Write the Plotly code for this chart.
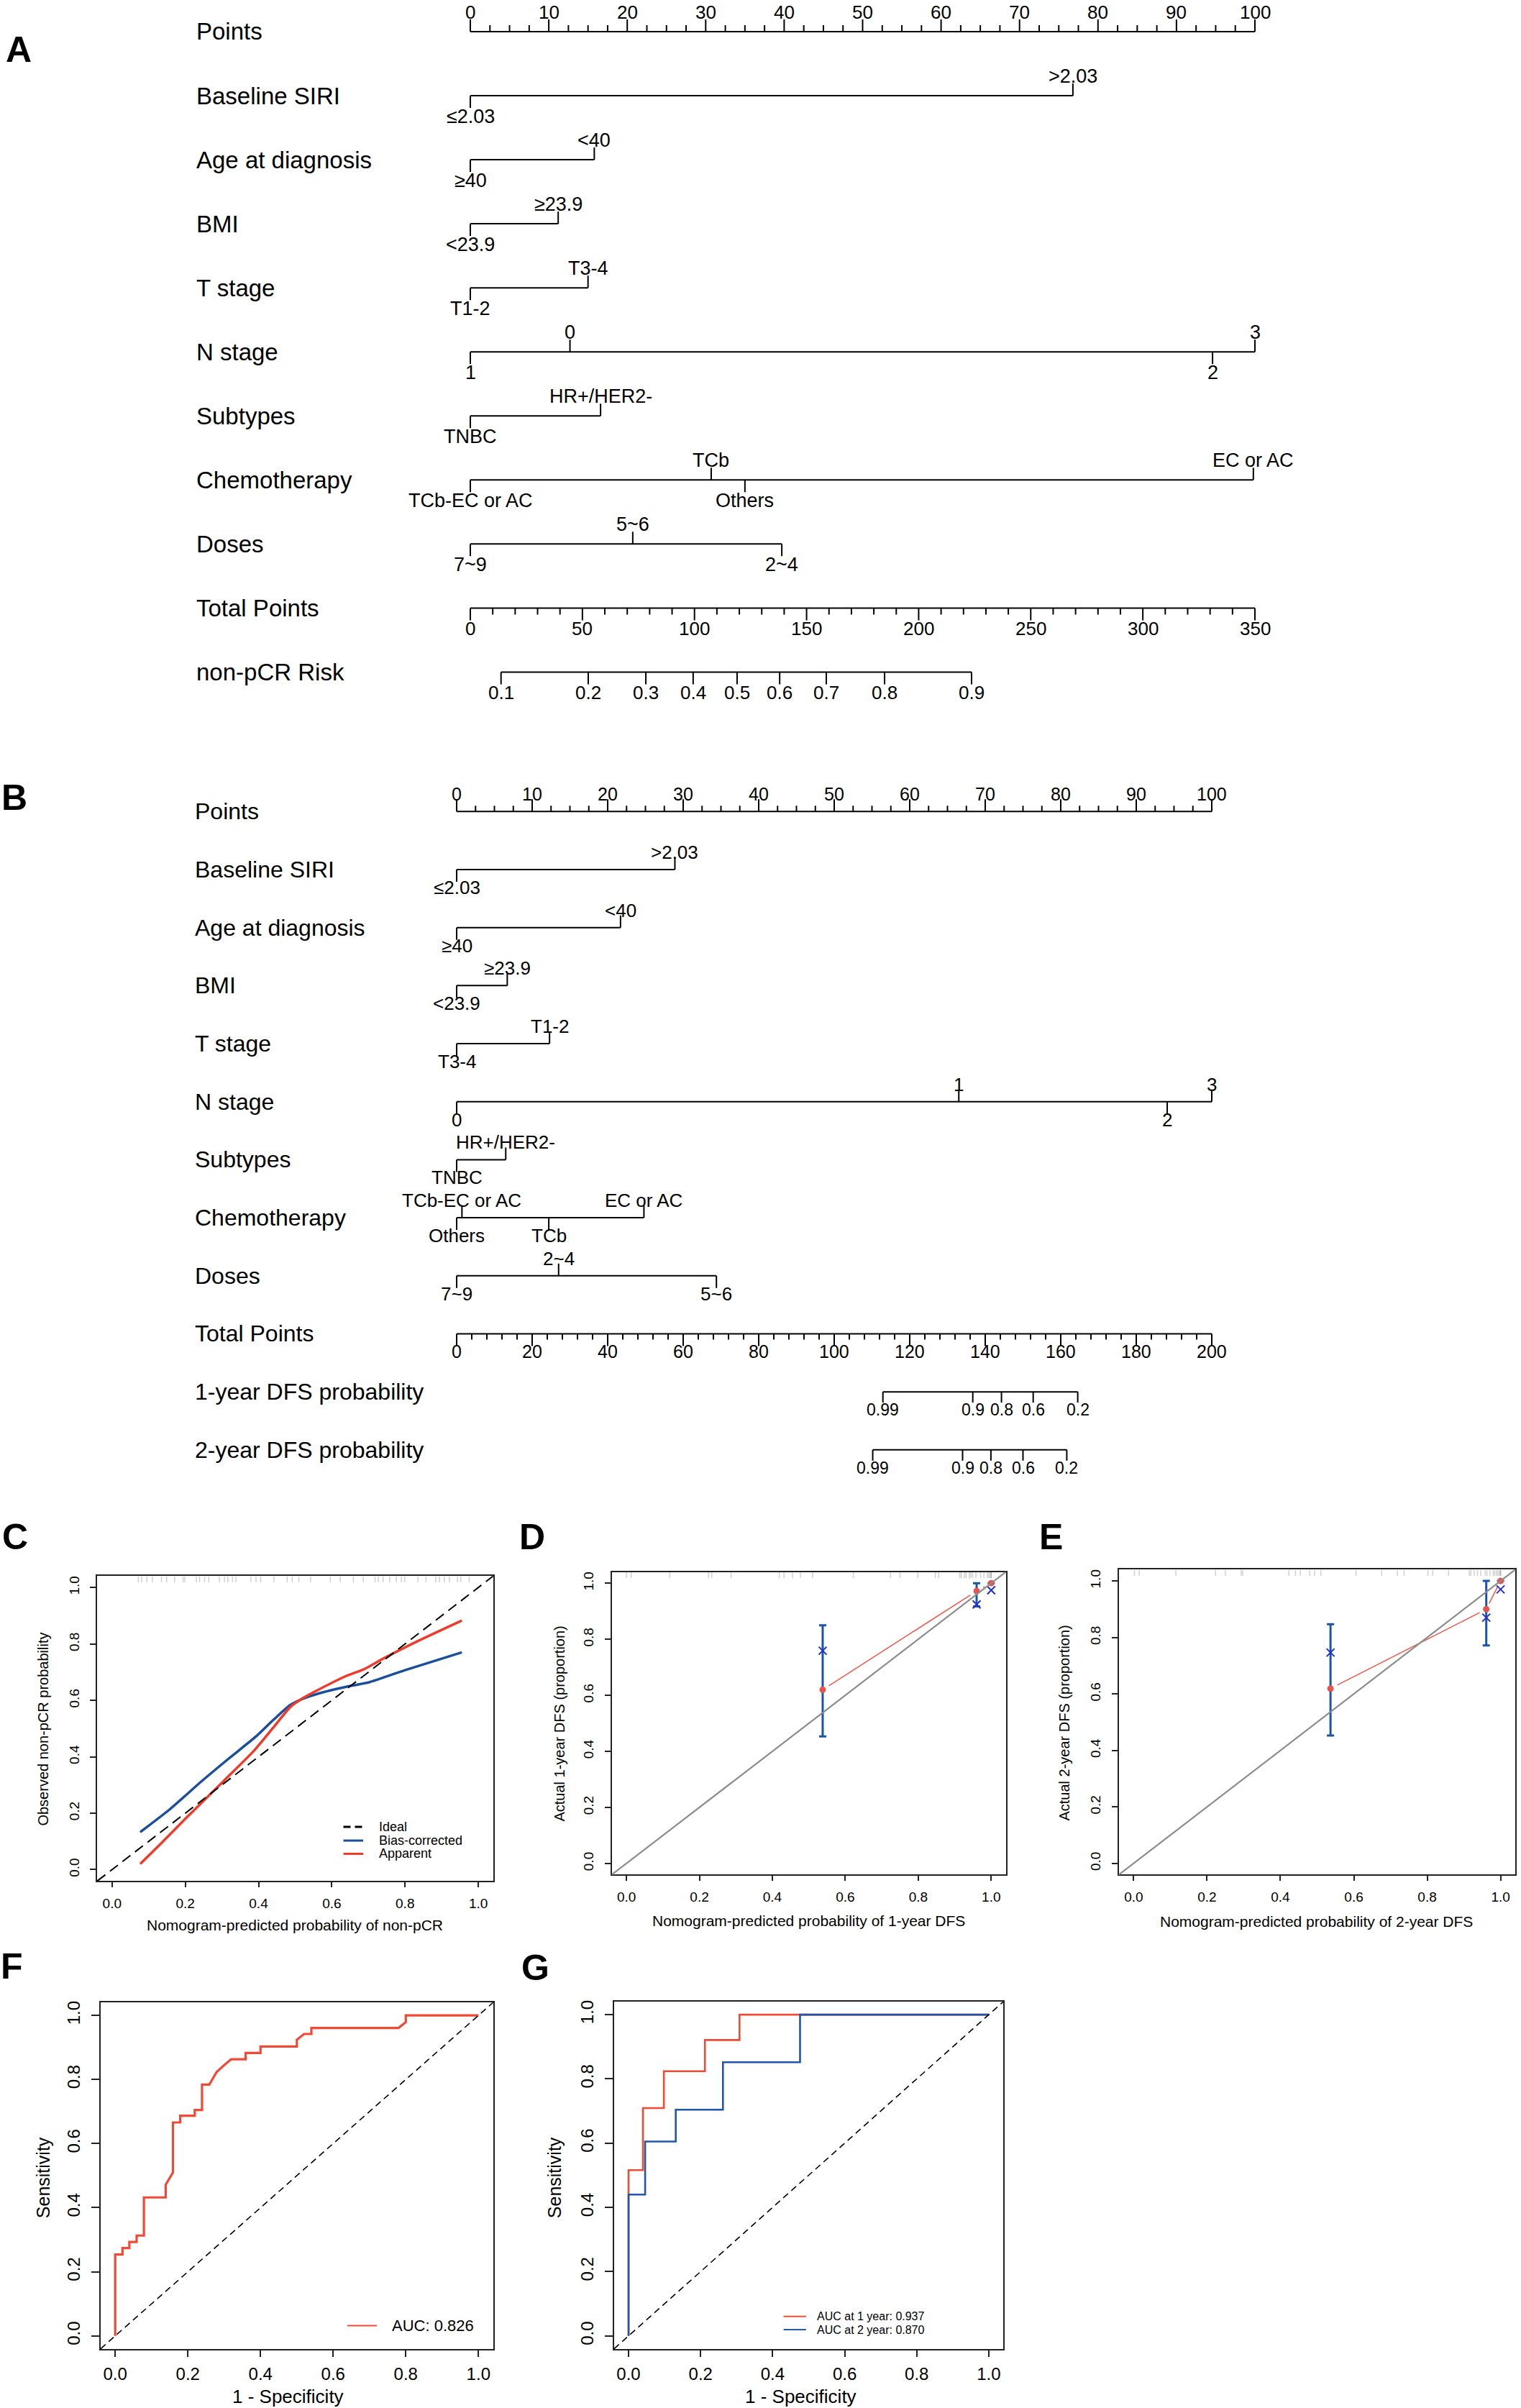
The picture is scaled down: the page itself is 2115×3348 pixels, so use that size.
import plotly.graph_objects as go

W, H = 2115, 3348
FONT = "Liberation Sans, Arial, Helvetica, sans-serif"

# ===================== DATA =====================
# ---- Panel A : non-pCR nomogram ----
A_points_ticks = [0, 10, 20, 30, 40, 50, 60, 70, 80, 90, 100]
A_siri_levels = ["≤2.03", ">2.03"]
A_siri_points = [0, 76.8]
A_age_levels = ["≥40", "<40"]
A_age_points = [0, 15.8]
A_bmi_levels = ["<23.9", "≥23.9"]
A_bmi_points = [0, 11.2]
A_t_levels = ["T1-2", "T3-4"]
A_t_points = [0, 15.0]
A_n_levels = ["1", "0", "2", "3"]
A_n_points = [0, 12.7, 94.6, 100]
A_sub_levels = ["TNBC", "HR+/HER2-"]
A_sub_points = [0, 16.6]
A_chemo_levels = ["TCb-EC or AC", "TCb", "Others", "EC or AC"]
A_chemo_points = [0, 30.7, 35.0, 99.8]
A_dose_levels = ["7~9", "5~6", "2~4"]
A_dose_points = [0, 20.7, 39.7]
A_total_ticks = [0, 50, 100, 150, 200, 250, 300, 350]
A_risk_labels = ["0.1", "0.2", "0.3", "0.4", "0.5", "0.6", "0.7", "0.8", "0.9"]
A_risk_total_points = [13.7, 52.6, 78.3, 99.4, 119.0, 138.0, 158.8, 184.8, 223.6]

# ---- Panel B : DFS nomogram ----
B_points_ticks = [0, 10, 20, 30, 40, 50, 60, 70, 80, 90, 100]
B_siri_levels = ["≤2.03", ">2.03"]
B_siri_points = [0, 28.9]
B_age_levels = ["≥40", "<40"]
B_age_points = [0, 21.7]
B_bmi_levels = ["<23.9", "≥23.9"]
B_bmi_points = [0, 6.7]
B_t_levels = ["T3-4", "T1-2"]
B_t_points = [0, 12.3]
B_n_levels = ["0", "1", "2", "3"]
B_n_points = [0, 66.5, 94.1, 100]
B_sub_levels = ["TNBC", "HR+/HER2-"]
B_sub_points = [0, 6.5]
B_chemo_levels = ["Others", "TCb-EC or AC", "TCb", "EC or AC"]
B_chemo_points = [0, 0.7, 12.2, 24.8]
B_dose_levels = ["7~9", "2~4", "5~6"]
B_dose_points = [0, 13.5, 34.4]
B_total_ticks = [0, 20, 40, 60, 80, 100, 120, 140, 160, 180, 200]
B_dfs1_labels = ["0.99", "0.9", "0.8", "0.6", "0.2"]
B_dfs1_total_points = [112.9, 136.7, 144.3, 152.7, 164.5]
B_dfs2_labels = ["0.99", "0.9", "0.8", "0.6", "0.2"]
B_dfs2_total_points = [110.2, 134.0, 141.5, 150.0, 161.6]

# ---- Panel C : calibration non-pCR ----
C_apparent_x = [0.077, 0.13, 0.20, 0.243, 0.30, 0.388, 0.44, 0.486, 0.52, 0.558, 0.637, 0.689, 0.742, 0.833, 0.955]
C_apparent_y = [0.020, 0.088, 0.180, 0.235, 0.308, 0.422, 0.503, 0.575, 0.607, 0.634, 0.685, 0.711, 0.749, 0.809, 0.883]
C_biascorr_x = [0.077, 0.158, 0.243, 0.32, 0.394, 0.44, 0.486, 0.52, 0.558, 0.65, 0.702, 0.80, 0.955]
C_biascorr_y = [0.133, 0.214, 0.3115, 0.395, 0.473, 0.53, 0.583, 0.605, 0.622, 0.651, 0.664, 0.707, 0.770]
C_rug = [0.072, 0.081, 0.095, 0.110, 0.135, 0.149, 0.171, 0.194, 0.199, 0.230, 0.239, 0.253, 0.264,
         0.293, 0.307, 0.316, 0.329, 0.338, 0.379, 0.393, 0.406, 0.442, 0.478, 0.492, 0.510, 0.542,
         0.596, 0.623, 0.659, 0.686, 0.718, 0.727, 0.740, 0.758, 0.776, 0.790, 0.799, 0.835, 0.857,
         0.884, 0.894, 0.907, 0.921, 0.943, 0.952, 0.975]

# ---- Panel D : calibration 1-year DFS ----
D_pred = [0.538, 0.960, 1.0]
D_observed = [0.620, 0.972, 1.0]
D_corrected = [0.759, 0.924, 0.975]
D_ci_low = [0.453, 0.917, 1.0]
D_ci_high = [0.850, 1.0, 1.0]
D_rug = [0.0, 0.013, 0.119, 0.225, 0.234, 0.287, 0.419, 0.432, 0.455, 0.477, 0.510, 0.622, 0.724,
         0.750, 0.799, 0.847, 0.856, 0.914, 0.918, 0.927, 0.931, 0.940, 0.944, 0.949, 0.958, 0.971,
         0.980, 0.989, 0.993, 0.997, 1.0, 1.0]

# ---- Panel E : calibration 2-year DFS ----
E_pred = [0.5365, 0.961, 1.0]
E_observed = [0.619, 0.900, 1.0]
E_corrected = [0.7465, 0.870, 0.970]
E_ci_low = [0.453, 0.7715, 1.0]
E_ci_high = [0.8467, 1.0, 1.0]
E_rug = [0.002, 0.015, 0.115, 0.223, 0.250, 0.293, 0.297, 0.423, 0.441, 0.454, 0.480, 0.493, 0.510,
         0.606, 0.676, 0.719, 0.737, 0.802, 0.815, 0.858, 0.915, 0.919, 0.928, 0.937, 0.946, 0.958,
         0.963, 0.971, 0.980, 0.984, 0.989, 0.993, 0.997, 1.0, 1.0]

# ---- Panel F : ROC non-pCR ----
F_fpr = [0, 0, 0.02, 0.02, 0.039, 0.039, 0.059, 0.059, 0.079, 0.079, 0.139, 0.139, 0.159, 0.159,
         0.179, 0.179, 0.219, 0.219, 0.239, 0.239, 0.259, 0.279, 0.30, 0.319, 0.359, 0.359, 0.40,
         0.40, 0.50, 0.50, 0.52, 0.54, 0.54, 0.78, 0.80, 0.80, 1.0]
F_tpr = [0, 0.254, 0.254, 0.274, 0.274, 0.293, 0.293, 0.313, 0.313, 0.432, 0.432, 0.472, 0.510, 0.666,
         0.666, 0.687, 0.687, 0.705, 0.705, 0.784, 0.784, 0.823, 0.845, 0.863, 0.863, 0.883, 0.883,
         0.903, 0.903, 0.924, 0.942, 0.942, 0.961, 0.961, 0.979, 1.0, 1.0]
F_auc_text = "AUC: 0.826"

# ---- Panel G : time-dependent ROC ----
G1_fpr = [0, 0, 0.040, 0.040, 0.098, 0.098, 0.212, 0.212, 0.308, 0.308, 1.0]
G1_tpr = [0, 0.516, 0.516, 0.709, 0.709, 0.824, 0.824, 0.921, 0.921, 1.0, 1.0]
G2_fpr = [0, 0, 0.046, 0.046, 0.131, 0.131, 0.262, 0.262, 0.476, 0.476, 1.0]
G2_tpr = [0, 0.440, 0.440, 0.605, 0.605, 0.704, 0.704, 0.852, 0.852, 1.0, 1.0]
G_legend = ["AUC at 1 year: 0.937", "AUC at 2 year: 0.870"]

# ===================== HELPERS =====================
fig = go.Figure()
annotations = []
shapes = []


def px_x(p):
    return p / W


def px_y(p):
    return 1 - p / H


def text(x, y, s, size, xref="paper", yref="paper", xanchor="center", yanchor="middle",
         yshift=0, angle=0, bold=False):
    annotations.append(dict(
        x=x, y=y, xref=xref, yref=yref, text=("<b>%s</b>" % s) if bold else s,
        showarrow=False, font=dict(family=FONT, size=size, color="black"),
        xanchor=xanchor, yanchor=yanchor, yshift=yshift, textangle=angle, borderpad=0))


def build_nomogram(xa, ya, rows, cfg):
    sx, sy = [], []
    px_row = cfg["px_row"]
    tmaj = cfg["tick_major"] / px_row
    tmin = cfg["tick_minor"] / px_row
    xref, yref = xa, ya

    def seg(x0, y0, x1, y1):
        sx.extend([x0, x1, None])
        sy.extend([y0, y1, None])

    for r, row in enumerate(rows):
        text(px_x(cfg["title_px"]), r, row["title"], cfg["f_title"], "paper", yref, xanchor="left")
        kind = row["kind"]
        if kind == "points":
            ticks = row["ticks"]
            seg(ticks[0], r, ticks[-1], r)
            n = int(round((ticks[-1] - ticks[0]) / row["minor"]))
            for k in range(n + 1):
                v = ticks[0] + k * row["minor"]
                major = any(abs(v - t) < 1e-6 for t in ticks)
                seg(v, r, v, r - (tmaj if major else tmin))
            for t in ticks:
                text(t, r, str(t), cfg["f_num"], xref, yref, yshift=cfg["up"])
        elif kind == "total":
            ticks = row["ticks"]
            f = 100.0 / ticks[-1]
            seg(ticks[0] * f, r, ticks[-1] * f, r)
            n = int(round((ticks[-1] - ticks[0]) / row["minor"]))
            for k in range(n + 1):
                v = ticks[0] + k * row["minor"]
                major = any(abs(v - t) < 1e-6 for t in ticks)
                seg(v * f, r, v * f, r + (tmaj if major else tmin))
            for t in ticks:
                text(t * f, r, str(t), cfg["f_num"], xref, yref, yshift=-cfg["down"])
        elif kind == "prob":
            f = 100.0 / row["total_max"]
            pos = [p * f for p in row["pos"]]
            seg(min(pos), r, max(pos), r)
            tl = cfg["tick_prob"] / px_row
            for p, lab in zip(pos, row["labels"]):
                seg(p, r, p, r + tl)
                text(p, r, lab, cfg["f_prob"], xref, yref, yshift=-cfg["down"])
        else:  # factor
            pts = row["points"]
            levs = row["levels"]
            seg(min(pts), r, max(pts), r)
            order = sorted(range(len(pts)), key=lambda i: pts[i])
            for k, i in enumerate(order):
                if k % 2 == 0:  # below
                    seg(pts[i], r, pts[i], r + tmaj)
                    text(pts[i], r, levs[i], cfg["f_lev"], xref, yref, yshift=-cfg["down"])
                else:  # above
                    seg(pts[i], r, pts[i], r - tmaj)
                    text(pts[i], r, levs[i], cfg["f_lev"], xref, yref, yshift=cfg["up"])
    fig.add_trace(go.Scatter(x=sx, y=sy, mode="lines", xaxis=xa, yaxis=ya,
                             line=dict(color="black", width=2), hoverinfo="skip"))


# ===================== PANEL A =====================
A_cfg = dict(px_row=89.1, tick_major=17, tick_minor=9, tick_prob=17, title_px=272,
             f_title=33, f_num=26, f_lev=27, f_prob=26, up=27, down=29)
A_rows = [
    dict(kind="points", title="Points", ticks=A_points_ticks, minor=2.5),
    dict(kind="factor", title="Baseline SIRI", levels=A_siri_levels, points=A_siri_points),
    dict(kind="factor", title="Age at diagnosis", levels=A_age_levels, points=A_age_points),
    dict(kind="factor", title="BMI", levels=A_bmi_levels, points=A_bmi_points),
    dict(kind="factor", title="T stage", levels=A_t_levels, points=A_t_points),
    dict(kind="factor", title="N stage", levels=A_n_levels, points=A_n_points),
    dict(kind="factor", title="Subtypes", levels=A_sub_levels, points=A_sub_points),
    dict(kind="factor", title="Chemotherapy", levels=A_chemo_levels, points=A_chemo_points),
    dict(kind="factor", title="Doses", levels=A_dose_levels, points=A_dose_points),
    dict(kind="total", title="Total Points", ticks=A_total_ticks, minor=10),
    dict(kind="prob", title="non-pCR Risk", labels=A_risk_labels, pos=A_risk_total_points,
         total_max=A_total_ticks[-1]),
]
build_nomogram("x", "y", A_rows, A_cfg)

# ===================== PANEL B =====================
B_cfg = dict(px_row=80.73, tick_major=17, tick_minor=8, tick_prob=15, title_px=270,
             f_title=32, f_num=25, f_lev=26, f_prob=23, up=24, down=25)
B_rows = [
    dict(kind="points", title="Points", ticks=B_points_ticks, minor=2.5),
    dict(kind="factor", title="Baseline SIRI", levels=B_siri_levels, points=B_siri_points),
    dict(kind="factor", title="Age at diagnosis", levels=B_age_levels, points=B_age_points),
    dict(kind="factor", title="BMI", levels=B_bmi_levels, points=B_bmi_points),
    dict(kind="factor", title="T stage", levels=B_t_levels, points=B_t_points),
    dict(kind="factor", title="N stage", levels=B_n_levels, points=B_n_points),
    dict(kind="factor", title="Subtypes", levels=B_sub_levels, points=B_sub_points),
    dict(kind="factor", title="Chemotherapy", levels=B_chemo_levels, points=B_chemo_points),
    dict(kind="factor", title="Doses", levels=B_dose_levels, points=B_dose_points),
    dict(kind="total", title="Total Points", ticks=B_total_ticks, minor=4),
    dict(kind="prob", title="1-year DFS probability", labels=B_dfs1_labels,
         pos=B_dfs1_total_points, total_max=B_total_ticks[-1]),
    dict(kind="prob", title="2-year DFS probability", labels=B_dfs2_labels,
         pos=B_dfs2_total_points, total_max=B_total_ticks[-1]),
]
build_nomogram("x2", "y2", B_rows, B_cfg)

# ===================== CALIBRATION / ROC PANELS =====================
RED_C = "#EE3B2C"
BLUE_C = "#1B4F9C"


def rug_trace(vals, xa, ya):
    xs, ys = [], []
    for v in vals:
        xs.extend([v, v, None])
        ys.extend([1.04, 1.018, None])
    fig.add_trace(go.Scatter(x=xs, y=ys, mode="lines", xaxis=xa, yaxis=ya,
                             line=dict(color="rgba(120,120,120,0.35)", width=1.5), hoverinfo="skip"))


# C
rug_trace(C_rug, "x3", "y3")
shapes.append(dict(type="line", xref="x3 domain", yref="y3 domain", x0=0, y0=0, x1=1, y1=1,
                   line=dict(color="black", width=2, dash="14px,8px")))
fig.add_trace(go.Scatter(x=C_biascorr_x, y=C_biascorr_y, mode="lines", xaxis="x3", yaxis="y3",
                         line=dict(color=BLUE_C, width=3.5, shape="spline", smoothing=0.6)))
fig.add_trace(go.Scatter(x=C_apparent_x, y=C_apparent_y, mode="lines", xaxis="x3", yaxis="y3",
                         line=dict(color=RED_C, width=3.5, shape="spline", smoothing=0.6)))


def calib_panel(xa, ya, pred, obs, corr, lo, hi, rug):
    rug_trace(rug, xa, ya)
    shapes.append(dict(type="line", xref=xa + " domain", yref=ya + " domain", x0=0, y0=0, x1=1, y1=1,
                       line=dict(color="#8c8c8c", width=2.2)))
    # connecting red segments with gaps near the points (R type = "b")
    gap = 0.022
    sx, sy = [], []
    for i in range(len(pred) - 1):
        dx = pred[i + 1] - pred[i]
        dy = obs[i + 1] - obs[i]
        L = (dx * dx + dy * dy) ** 0.5
        if L > 2.2 * gap:
            ux, uy = dx / L, dy / L
            sx.extend([pred[i] + ux * gap, pred[i + 1] - ux * gap, None])
            sy.extend([obs[i] + uy * gap, obs[i + 1] - uy * gap, None])
    fig.add_trace(go.Scatter(x=sx, y=sy, mode="lines", xaxis=xa, yaxis=ya,
                             line=dict(color="#F0584E", width=1.5)))
    fig.add_trace(go.Scatter(
        x=pred, y=obs, mode="markers", xaxis=xa, yaxis=ya,
        marker=dict(color="rgba(0,0,0,0)", size=1),
        error_y=dict(type="data", symmetric=False,
                     array=[h - o for h, o in zip(hi, obs)],
                     arrayminus=[o - l for o, l in zip(obs, lo)],
                     color="#1A55A8", thickness=3, width=5)))
    fig.add_trace(go.Scatter(x=pred, y=obs, mode="markers", xaxis=xa, yaxis=ya,
                             marker=dict(color="#E4554D", size=9)))
    fig.add_trace(go.Scatter(x=pred, y=corr, mode="markers", xaxis=xa, yaxis=ya,
                             marker=dict(symbol="x-thin", size=11, line=dict(color="#2030D0", width=2))))


calib_panel("x4", "y4", D_pred, D_observed, D_corrected, D_ci_low, D_ci_high, D_rug)
calib_panel("x5", "y5", E_pred, E_observed, E_corrected, E_ci_low, E_ci_high, E_rug)

# F
shapes.append(dict(type="line", xref="x6 domain", yref="y6 domain", x0=0, y0=0, x1=1, y1=1,
                   line=dict(color="black", width=1.6, dash="9px,6px")))
fig.add_trace(go.Scatter(x=F_fpr, y=F_tpr, mode="lines", xaxis="x6", yaxis="y6",
                         line=dict(color="#F04A36", width=3.2)))
# G
shapes.append(dict(type="line", xref="x7 domain", yref="y7 domain", x0=0, y0=0, x1=1, y1=1,
                   line=dict(color="black", width=1.6, dash="9px,6px")))
fig.add_trace(go.Scatter(x=G1_fpr, y=G1_tpr, mode="lines", xaxis="x7", yaxis="y7",
                         line=dict(color="#F04A36", width=2.6)))
fig.add_trace(go.Scatter(x=G2_fpr, y=G2_tpr, mode="lines", xaxis="x7", yaxis="y7",
                         line=dict(color="#2157A6", width=2.6)))

# ===================== AXES =====================
TV = [0, 0.2, 0.4, 0.6, 0.8, 1.0]
TT = ["0.0", "0.2", "0.4", "0.6", "0.8", "1.0"]


def frame_axis(dom, anchor, is_y, fsize, ticklen, standoff):
    d = dict(domain=dom, anchor=anchor, range=[-0.04, 1.04], showline=True, mirror=True,
             linecolor="#222", linewidth=2, ticks="outside", ticklen=ticklen, tickwidth=2,
             tickcolor="#222", tickvals=TV, ticktext=TT, showgrid=False, zeroline=False,
             tickfont=dict(family=FONT, size=fsize, color="black"), ticklabelstandoff=standoff)
    if is_y:
        d["tickangle"] = -90
    return d


def xdom(a, b):
    return [a / W, b / W]


def ydom(a, b):
    return [1 - b / H, 1 - a / H]


layout = dict(
    width=W, height=H, margin=dict(l=0, r=0, t=0, b=0), showlegend=False,
    paper_bgcolor="white", plot_bgcolor="white",
    # nomogram A
    xaxis=dict(domain=[0, 1], range=[-654 / 10.91, (W - 654) / 10.91], visible=False, anchor="y"),
    yaxis=dict(domain=ydom(0, 1000), range=[(1000 - 42) / 89.1, (0 - 42) / 89.1], visible=False, anchor="x"),
    # nomogram B
    xaxis2=dict(domain=[0, 1], range=[-635 / 10.5, (W - 635) / 10.5], visible=False, anchor="y2"),
    yaxis2=dict(domain=ydom(1050, 2080), range=[(2080 - 1127) / 80.73, (1050 - 1127) / 80.73],
                visible=False, anchor="x2"),
    xaxis3=frame_axis(xdom(135.4, 685.5), "y3", False, 19, 7, 6),
    yaxis3=frame_axis(ydom(2190.8, 2614.7), "x3", True, 19, 8, 8),
    xaxis4=frame_axis(xdom(850.8, 1398.6), "y4", False, 19, 7, 6),
    yaxis4=frame_axis(ydom(2184.9, 2606.0), "x4", True, 19, 8, 8),
    xaxis5=frame_axis(xdom(1556, 2107), "y5", False, 19, 7, 6),
    yaxis5=frame_axis(ydom(2181.7, 2606.0), "x5", True, 19, 8, 8),
    xaxis6=frame_axis(xdom(140, 685.5), "y6", False, 24, 9, 4),
    yaxis6=frame_axis(ydom(2784, 3265.5), "x6", True, 24, 11, 6),
    xaxis7=frame_axis(xdom(854, 1395), "y7", False, 24, 9, 4),
    yaxis7=frame_axis(ydom(2782.9, 3265.5), "x7", True, 24, 11, 6),
)

# ===================== TITLES / LEGENDS / LETTERS =====================
# C
text(px_x(410), px_y(2676), "Nomogram-predicted probability of non-pCR", 21)
text(px_x(60), px_y(2404), "Observed non-pCR probability", 20, angle=-90)
# D
text(px_x(1124), px_y(2670.5), "Nomogram-predicted probability of 1-year DFS", 21)
text(px_x(778), px_y(2396), "Actual 1-year DFS (proportion)", 20, angle=-90)
# E
text(px_x(1830), px_y(2671), "Nomogram-predicted probability of 2-year DFS", 21)
text(px_x(1480), px_y(2395), "Actual 2-year DFS (proportion)", 20, angle=-90)
# F
text(px_x(400), px_y(3332), "1 - Specificity", 26)
text(px_x(60), px_y(3028), "Sensitivity", 25, angle=-90)
# G
text(px_x(1113), px_y(3332), "1 - Specificity", 26)
text(px_x(771), px_y(3028), "Sensitivity", 25, angle=-90)

# legend C
for yy, col, dash, lab in [(2539.6, "black", "10px,6px", "Ideal"),
                           (2558.6, BLUE_C, "solid", "Bias-corrected"),
                           (2577.0, RED_C, "solid", "Apparent")]:
    shapes.append(dict(type="line", xref="paper", yref="paper", x0=px_x(477.5), x1=px_x(505),
                       y0=px_y(yy), y1=px_y(yy), line=dict(color=col, width=3, dash=dash)))
    text(px_x(525.7), px_y(yy), lab, 18, xanchor="left")
# legend F
shapes.append(dict(type="line", xref="paper", yref="paper", x0=px_x(483), x1=px_x(524),
                   y0=px_y(3233.4), y1=px_y(3233.4), line=dict(color="#F04A36", width=2)))
text(px_x(544), px_y(3233.4), F_auc_text, 22, xanchor="left")
# legend G
for yy, col, lab in [(3220.6, "#F04A36", G_legend[0]), (3239.0, "#2157A6", G_legend[1])]:
    shapes.append(dict(type="line", xref="paper", yref="paper", x0=px_x(1089.6), x1=px_x(1120.9),
                       y0=px_y(yy), y1=px_y(yy), line=dict(color=col, width=2)))
    text(px_x(1135), px_y(yy), lab, 16, xanchor="left")

# panel letters
for lx, ly, L in [(26, 67, "A"), (20, 1108, "B"), (21, 2136, "C"), (740, 2136, "D"),
                  (1461, 2136, "E"), (16, 2734, "F"), (744, 2736, "G")]:
    text(px_x(lx), px_y(ly), L, 50, bold=True)

layout["annotations"] = annotations
layout["shapes"] = shapes
fig.update_layout(**layout)
fig.write_html("out.html", config={"displayModeBar": False},
               post_script="document.body.style.margin='0';document.body.style.padding='0';"
                           "document.body.style.overflow='hidden';")
